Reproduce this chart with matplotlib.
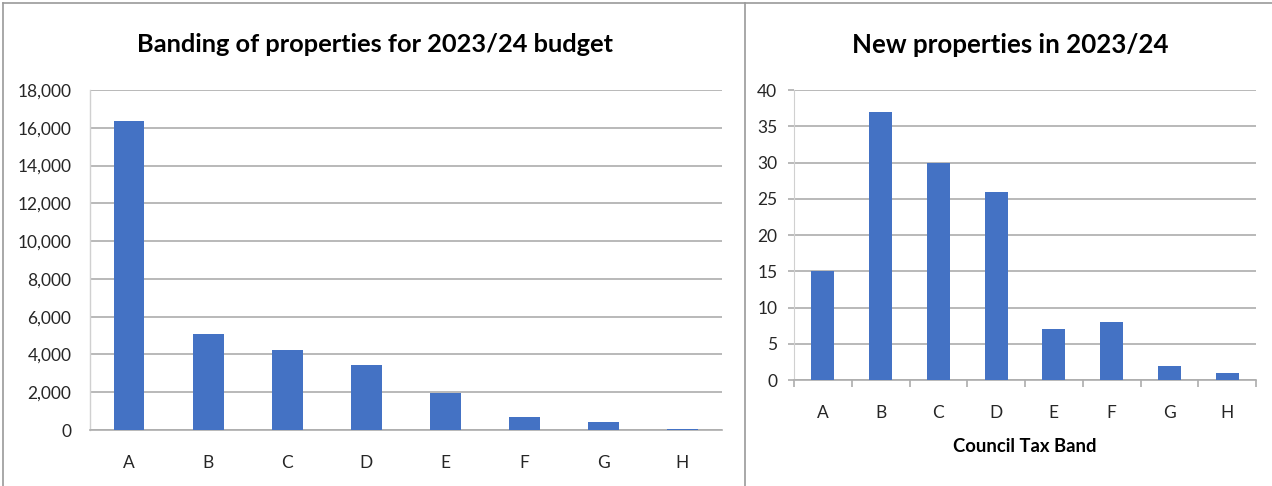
import matplotlib
matplotlib.use("Agg")
import matplotlib.pyplot as plt
from matplotlib.ticker import FuncFormatter, MultipleLocator
from matplotlib.lines import Line2D

bands = ["A", "B", "C", "D", "E", "F", "G", "H"]
all_props = [16350, 5100, 4250, 3420, 1970, 700, 400, 60]
new_props = [15, 37, 30, 26, 7, 8, 2, 1]

title_left = "Banding of properties for 2023/24 budget"
title_right = "New properties in 2023/24"
xlabel_right = "Council Tax Band"

BAR = "#4472C4"
GRID = "#ADADAD"
TXT = "#262626"
FONT = "Lato"

plt.rcParams["font.family"] = [FONT, "DejaVu Sans"]

W, H = 1272, 486
fig = plt.figure(figsize=(W / 100, H / 100), dpi=100)

def fx(px):
    return px / W

def fy(py):
    return 1 - py / H

# panel frame lines
for ln in [
    Line2D([fx(3), fx(1272)], [fy(3.5), fy(3.5)]),
    Line2D([fx(3), fx(3)], [fy(3.5), fy(486)]),
    Line2D([fx(745), fx(745)], [fy(3.5), fy(486)]),
]:
    ln.set_color("#9A9A9A")
    ln.set_linewidth(1.2)
    fig.add_artist(ln)

# Left chart
ax1 = fig.add_axes([fx(89.5), fy(430), fx(722 - 89.5), (430 - 90) / H])
x = range(len(bands))
ax1.bar(x, all_props, width=0.39, color=BAR, zorder=3)
ax1.set_xlim(-0.5, len(bands) - 0.5)
ax1.set_ylim(0, 18000)
ax1.yaxis.set_major_locator(MultipleLocator(2000))
ax1.yaxis.set_major_formatter(FuncFormatter(lambda v, p: f"{int(v):,}"))
ax1.set_xticks(list(x))
ax1.set_xticklabels(bands)
ax1.grid(axis="y", color=GRID, linewidth=1.2, zorder=0)
for s in ["top", "right"]:
    ax1.spines[s].set_visible(False)
ax1.spines["left"].set_color("#D0D0D0")
ax1.spines["left"].set_linewidth(1.0)
ax1.spines["bottom"].set_color(GRID)
ax1.spines["bottom"].set_linewidth(1.2)
ax1.tick_params(axis="y", length=0, pad=13, labelsize=12.5, labelcolor=TXT)
ax1.tick_params(axis="x", length=0, pad=18, labelsize=12.5, labelcolor=TXT)
fig.text(fx(375), fy(45), title_left, ha="center", va="center",
         fontsize=18.3, fontweight="bold", color="black")

# Right chart
ax2 = fig.add_axes([fx(794), fy(380), fx(1256 - 794), (380 - 90) / H])
ax2.bar(x, new_props, width=0.4, color=BAR, zorder=3)
ax2.set_xlim(-0.5, len(bands) - 0.5)
ax2.set_ylim(0, 40)
ax2.yaxis.set_major_locator(MultipleLocator(5))
ax2.set_xticks(list(x))
ax2.set_xticklabels(bands)
ax2.set_xticks([i - 0.5 for i in range(len(bands) + 1)], minor=True)
ax2.grid(axis="y", color=GRID, linewidth=1.2, zorder=0)
for s in ["top", "right"]:
    ax2.spines[s].set_visible(False)
ax2.spines["left"].set_color("#D0D0D0")
ax2.spines["bottom"].set_color(GRID)
ax2.spines["bottom"].set_linewidth(1.2)
ax2.tick_params(axis="y", length=4, color=GRID, width=1.2, pad=8, labelsize=12.5, labelcolor=TXT)
ax2.tick_params(axis="x", which="major", length=0, pad=18, labelsize=12.5, labelcolor=TXT)
ax2.tick_params(axis="x", which="minor", length=5, color=GRID, width=1.2)
ax2.set_xlabel(xlabel_right, fontsize=13.3, fontweight="bold", color="black", labelpad=12)
fig.text(fx(1010), fy(45), title_right, ha="center", va="center",
         fontsize=18.6, fontweight="bold", color="black")

fig.savefig("out.png", dpi=100)
